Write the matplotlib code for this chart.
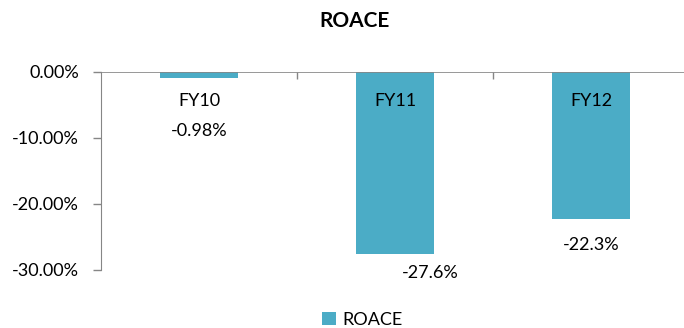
import matplotlib
matplotlib.use("Agg")
import matplotlib.pyplot as plt

# ROACE by financial year, in percent
years = ['FY10', 'FY11', 'FY12']
roace = [-0.98, -27.6, -22.3]
label_formats = ['{:.2f}%', '{:.1f}%', '{:.1f}%']

# where each value label sits relative to the bar end (pixels)
label_offsets = [(0, -53), (35, -19), (0, -26)]

bar_color = '#4BACC6'
axis_color = '#868686'

plt.rcParams['font.family'] = ['Lato', 'DejaVu Sans']

fig = plt.figure(figsize=(6.84, 3.28), dpi=100)
ax = fig.add_axes([101 / 684, 58 / 328, 588 / 684, 198 / 328])

x = list(range(len(years)))
ax.bar(x, roace, width=0.4, color=bar_color, label='ROACE', zorder=2)
ax.set_axisbelow(False)

ax.set_xlim(-0.5, len(years) - 0.5)
ax.set_ylim(-30, 0)

# zero line acts as the category axis
for side in ['top', 'right', 'bottom']:
    ax.spines[side].set_visible(False)
ax.spines['left'].set_color(axis_color)
ax.axhline(0, color=axis_color, lw=1.2, zorder=3)

ax.set_yticks([0, -10, -20, -30])
ax.set_yticklabels(['{:.2f}%'.format(v) for v in [0, -10, -20, -30]])
ax.tick_params(axis='y', length=6, color=axis_color, width=1, pad=10,
               labelsize=13, labelcolor='black')

ax.set_xticks(x)
ax.set_xticklabels(years)
ax.set_xticks([0.5, 1.5], minor=True)
ax.tick_params(axis='x', which='major', length=0, pad=15, labelsize=13)
ax.tick_params(axis='x', which='minor', length=5, color=axis_color,
               width=1, direction='out')
ax.xaxis.set_ticks_position('bottom')
ax.spines['bottom'].set_position(('data', 0))

for xi, val, fmt, (dx, dy) in zip(x, roace, label_formats, label_offsets):
    ax.annotate(fmt.format(val), xy=(xi, val), xytext=(dx, dy),
                textcoords='offset pixels', ha='center', va='center',
                fontsize=13)

fig.suptitle('ROACE', x=0.518, y=0.965, fontsize=15, fontweight='bold')

fig.legend(loc='center', bbox_to_anchor=(0.53, 0.025), frameon=False,
           fontsize=13, handlelength=0.75, handleheight=0.75, handletextpad=0.4)

fig.savefig('out.png', dpi=100)
